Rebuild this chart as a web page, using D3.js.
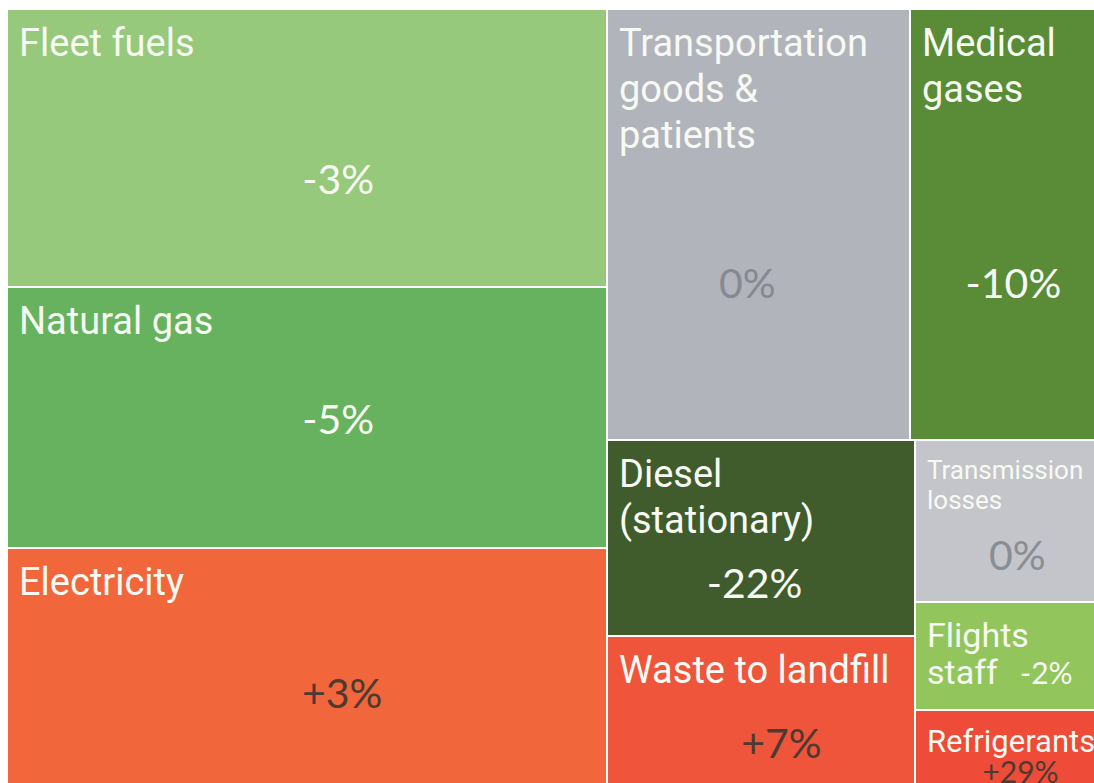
<!DOCTYPE html>
<html>
<head>
<meta charset="utf-8">
<script src="https://cdn.jsdelivr.net/npm/d3@7"></script>
<style>
  body { margin: 0; background: #fff; overflow: hidden; }
  svg { display: block; font-family: Roboto, "Noto Sans", sans-serif; }
  .value { font-family: Lato, "Open Sans", sans-serif; }
</style>
</head>
<body>
<div id="treemap"></div>
<script>

// Emission sources (leaf order follows the tiling groups)
var sources = ["Fleet fuels", "Natural gas", "Electricity",
    "Transportation goods & patients", "Medical gases",
    "Diesel (stationary)", "Waste to landfill",
    "Transmission losses", "Flights staff", "Refrigerants"];

// relative size of each source
var sizes = [166, 156, 148, 130, 82, 60, 49, 30, 20, 16];

// year-on-year change shown in each cell
var changes = ["-3%", "-5%", "+3%", "0%", "-10%", "-22%", "+7%", "0%", "-2%", "+29%"];

// how the cells are grouped
var groups = ["left", "left", "left", "top", "top", "mid", "mid", "side", "side", "side"];

// title lines as they wrap in the picture
var titleLines = [["Fleet fuels"], ["Natural gas"], ["Electricity"],
    ["Transportation", "goods &", "patients"], ["Medical", "gases"],
    ["Diesel", "(stationary)"], ["Waste to landfill"],
    ["Transmission", "losses"], ["Flights", "staff"], ["Refrigerants"]];

var fills = {
    "Fleet fuels": "#96c97b",
    "Natural gas": "#66b25f",
    "Electricity": "#f1663a",
    "Transportation goods & patients": "#b2b4bc",
    "Medical gases": "#5a8b37",
    "Diesel (stationary)": "#405c2c",
    "Waste to landfill": "#ef553b",
    "Transmission losses": "#c3c5ca",
    "Flights staff": "#92c55b",
    "Refrigerants": "#ee4b38"
};

// value label colour depends on the cell
var valueColors = {
    "Transportation goods & patients": "#868990",
    "Transmission losses": "#8a8d93",
    "Electricity": "#4d3a33",
    "Waste to landfill": "#4d3a33",
    "Refrigerants": "#4d3a33"
};

// where the value label sits, as fractions of the cell (centre x, baseline y)
var valueAt = {
    "Fleet fuels": [0.552, 0.667],
    "Natural gas": [0.552, 0.564],
    "Electricity": [0.559, 0.648],
    "Transportation goods & patients": [0.463, 0.671],
    "Medical gases": [0.542, 0.671],
    "Diesel (stationary)": [0.479, 0.809],
    "Waste to landfill": [0.567, 0.767],
    "Transmission losses": [0.551, 0.807],
    "Refrigerants": [0.568, 0.855]
};

var margin = {top: 10, left: 8};
var width = 1094 + 6 - margin.left,
    height = 795 - margin.top;

var svg = d3.select("#treemap").append("svg")
    .attr("width", 1094)
    .attr("height", 783)
    .append("g")
    .attr("transform", "translate(" + margin.left + "," + margin.top + ")");

// build the nested hierarchy
var leaves = sources.map(function(s, i) {
    return {name: s, value: sizes[i], change: changes[i], group: groups[i], lines: titleLines[i]};
});
function pick(g) { return leaves.filter(function(d) { return d.group === g; }); }

var rootData = {name: "root", children: [
    {name: "left", children: pick("left")},
    {name: "right", children: [
        {name: "top", children: pick("top")},
        {name: "bottom", children: [
            {name: "mid", children: pick("mid")},
            {name: "side", children: pick("side")}
        ]}
    ]}
]};

var root = d3.hierarchy(rootData)
    .sum(function(d) { return d.children ? 0 : d.value; });

d3.treemap()
    .tile(d3.treemapSliceDice)
    .size([width, height])
    .paddingInner(2)
    .round(true)(root);

var cell = svg.selectAll("g.cell")
    .data(root.leaves())
    .enter().append("g")
    .attr("class", "cell")
    .attr("transform", function(d) { return "translate(" + d.x0 + "," + d.y0 + ")"; });

cell.append("rect")
    .attr("width", function(d) { return d.x1 - d.x0; })
    .attr("height", function(d) { return d.y1 - d.y0; })
    .attr("fill", function(d) { return fills[d.data.name]; });

// title sizes: small cells get smaller text
var titleStyle = {
    "Transmission losses": {fs: 26, gap: 30, base: 38},
    "Refrigerants": {fs: 31, gap: 36, base: 41},
    "Flights staff": {fs: 34, gap: 37, base: 44}
};

cell.each(function(d) {
    var g = d3.select(this);
    var st = titleStyle[d.data.name] || {fs: 38, gap: 46, base: 46};

    var title = g.append("text")
        .attr("fill", "#f7faf2")
        .attr("font-size", st.fs);
    d.data.lines.forEach(function(line, i) {
        title.append("tspan")
            .attr("x", 11)
            .attr("y", st.base + i * st.gap)
            .text(line);
    });

    var w = d.x1 - d.x0, h = d.y1 - d.y0;

    if (d.data.name === "Flights staff") {
        // value sits on the same line as "staff"
        g.append("text")
            .attr("class", "value")
            .attr("x", 104)
            .attr("y", st.base + st.gap)
            .attr("font-size", 30)
            .attr("fill", "#f7faf2")
            .text(d.data.change);
        return;
    }

    var pos = valueAt[d.data.name];
    g.append("text")
        .attr("class", "value")
        .attr("x", w * pos[0])
        .attr("y", h * pos[1])
        .attr("text-anchor", "middle")
        .attr("font-size", d.data.name === "Refrigerants" ? 30 : 41)
        .attr("fill", valueColors[d.data.name] || "#f7faf2")
        .text(d.data.change);
});

</script>
</body>
</html>
